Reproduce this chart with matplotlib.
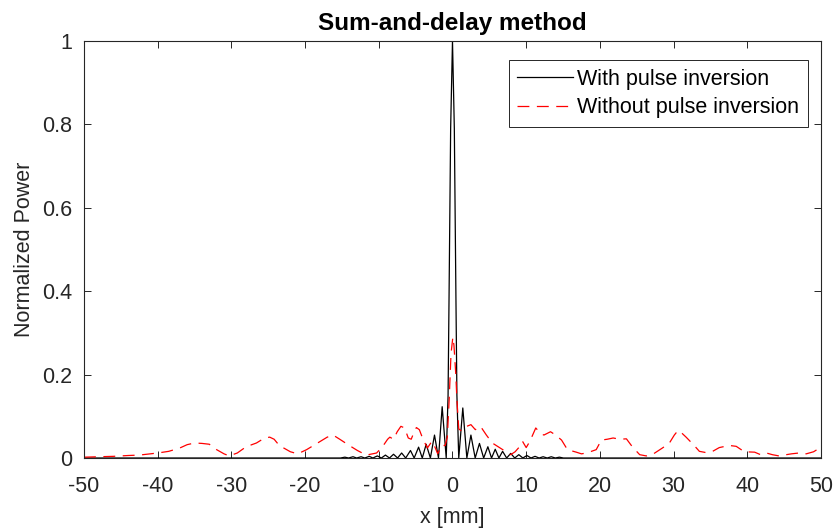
import matplotlib
matplotlib.use('Agg')
import matplotlib.pyplot as plt

# beam profile (x in mm, normalized power)
x_with = [-50, -20, -15.2, -14.6, -14.1, -13.5, -13.0, -12.4, -11.9, -11.3, -10.8,
          -10.2, -9.65, -9.1, -8.55, -8.0, -7.45, -6.9, -6.35, -5.7, -5.2, -4.6,
          -4.1, -3.57, -3.0, -2.44, -1.9, -1.4, -0.85, -0.6, -0.47, -0.25, 0,
          0.25, 0.47, 0.6, 0.85, 1.4, 1.95, 2.5, 3.08, 3.66, 4.23, 4.8, 5.3, 5.8,
          6.3, 6.8, 7.35, 7.9, 8.45, 9.0, 9.55, 10.1, 10.65, 11.2, 11.75, 12.3,
          12.85, 13.4, 13.95, 14.5, 15.05, 20, 50]
y_with = [0, 0, 0, 0.002, 0, 0.003, 0, 0.003, 0, 0.004, 0,
          0.005, 0, 0.007, 0, 0.009, 0, 0.012, 0, 0.018, 0, 0.026,
          0, 0.033, 0, 0.055, 0, 0.123, 0, 0.15, 0.38, 0.79, 1.0,
          0.79, 0.38, 0.15, 0, 0.12, 0, 0.055, 0, 0.035, 0, 0.027, 0, 0.021,
          0, 0.016, 0, 0.011, 0, 0.008, 0, 0.006, 0, 0.004, 0, 0.003,
          0, 0.003, 0, 0.002, 0, 0, 0]

x_without = [-50, -48, -46, -44, -42.5, -41, -40, -38.5, -37, -36, -35, -34, -33,
             -32, -31, -30.3, -29.2, -28, -26.6, -25.5, -24.8, -24.2, -23.5, -22,
             -21, -19.8, -18.3, -17, -16.2, -15.3, -14, -12.9, -11.7, -10.3, -9.5,
             -8.8, -8.5, -8.0, -7.5, -7.0, -6.5, -6.0, -5.6, -5.2, -4.9, -4.5, -4.0,
             -3.4, -2.8, -2.4, -2.0, -1.5, -1.0, -0.7, -0.45, -0.2, 0.05, 0.2, 0.45,
             0.6, 0.85, 1.2, 1.8, 2.5, 3.1, 3.8, 4.6, 5.4, 6.2, 7.0, 7.9, 8.5, 9.0,
             9.5, 10.0, 10.5, 11.3, 11.9, 12.4, 13.3, 14.0, 14.8, 15.6, 16.8, 17.5,
             18.2, 19.5, 20.2, 21.0, 21.8, 22.7, 23.6, 24.4, 25.4, 26.3, 27.1, 28.4,
             29.4, 30.1, 30.6, 31.1, 31.7, 32.8, 33.5, 34.4, 35.3, 36.2, 37.0, 37.6,
             38.5, 39.6, 41.0, 41.8, 42.6, 43.4, 44.3, 45.3, 46, 47, 48, 49, 50]
y_without = [0.002, 0.003, 0.004, 0.006, 0.007, 0.01, 0.012, 0.016, 0.024, 0.032,
             0.036, 0.035, 0.033, 0.02, 0.01, 0.005, 0.012, 0.027, 0.036, 0.048,
             0.05, 0.045, 0.03, 0.015, 0.01, 0.02, 0.036, 0.05, 0.055, 0.045, 0.03,
             0.018, 0.007, 0.012, 0.027, 0.045, 0.05, 0.045, 0.063, 0.076, 0.072,
             0.048, 0.045, 0.063, 0.073, 0.068, 0.045, 0.024, 0.04, 0.027, 0.01,
             0.03, 0.03, 0.05, 0.14, 0.25, 0.29, 0.27, 0.2, 0.14, 0.07, 0.065,
             0.075, 0.08, 0.068, 0.076, 0.055, 0.036, 0.027, 0.018, 0.008, 0.015,
             0.025, 0.04, 0.025, 0.04, 0.072, 0.06, 0.055, 0.063, 0.055, 0.043,
             0.02, 0.014, 0.01, 0.012, 0.02, 0.043, 0.045, 0.048, 0.045, 0.046,
             0.027, 0.008, 0.005, 0.008, 0.023, 0.035, 0.055, 0.066, 0.06, 0.05,
             0.03, 0.016, 0.013, 0.016, 0.025, 0.028, 0.03, 0.028, 0.015, 0.014,
             0.008, 0.012, 0.008, 0.005, 0.008, 0.01, 0.012, 0.01, 0.015, 0.026]

xticks = [-50, -40, -30, -20, -10, 0, 10, 20, 30, 40, 50]
yticks = [0, 0.2, 0.4, 0.6, 0.8, 1]
ytick_labels = ['0', '0.2', '0.4', '0.6', '0.8', '1']

plt.rcParams['font.family'] = ['Liberation Sans', 'DejaVu Sans']
plt.rcParams['axes.unicode_minus'] = False
grey = '#262626'

fig = plt.figure(figsize=(8.35, 5.29), dpi=100)
ax = fig.add_axes([0.1006, 0.1342, 0.8826, 0.7883])

ax.plot(x_with, y_with, color='black', linewidth=0.9, label='With pulse inversion')
ax.plot(x_without, y_without, color='red', linewidth=0.9, dashes=(9.5, 6),
        label='Without pulse inversion')

ax.set_xlim(-50, 50)
ax.set_ylim(0, 1)
ax.set_xticks(xticks)
ax.set_yticks(yticks)
ax.set_yticklabels(ytick_labels)
ax.tick_params(direction='in', top=True, right=True, length=5, width=0.7,
               colors=grey, labelsize=15.5)
ax.tick_params(axis='x', pad=13)
ax.tick_params(axis='y', pad=8.5)
for s in ax.spines.values():
    s.set_color(grey)
    s.set_linewidth(0.8)

ax.set_xlabel('x [mm]', fontsize=15.5, color=grey, labelpad=7)
ax.set_ylabel('Normalized Power', fontsize=15.5, color=grey, labelpad=5)
ax.set_title('Sum-and-delay method', fontsize=17.5, fontweight='bold', pad=8)

leg = ax.legend(loc='upper right', bbox_to_anchor=(0.9824, 0.9544),
                borderaxespad=0, fontsize=15.5, handlelength=2.6,
                fancybox=False, framealpha=1, edgecolor=grey,
                borderpad=0.4, labelspacing=0.35, handletextpad=0.2)
leg.get_frame().set_linewidth(0.7)

fig.savefig('out.png', dpi=100)
